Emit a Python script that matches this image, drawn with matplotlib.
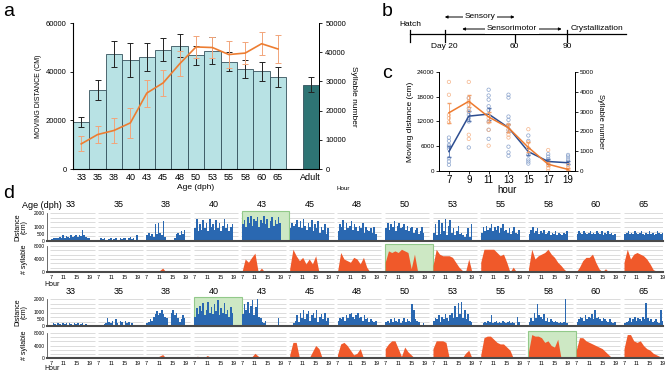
import numpy as np
import matplotlib
matplotlib.use('Agg')
from matplotlib import pyplot as plt
from matplotlib.patches import Rectangle

plt.rcParams['font.family'] = ['Liberation Sans', 'DejaVu Sans']

# ---- panel a: daily totals per age
ages = ['33', '35', '38', '40', '43', '45', '48', '50', '53', '55', '58', '60', '65']
dist_mean = [19300, 32600, 47400, 44900, 46000, 49000, 50700, 46700, 48600, 44100, 41200, 40100, 37800]
dist_err = [2100, 4100, 5300, 6900, 5800, 4800, 4800, 4000, 5600, 4000, 3700, 4000, 4100]
adult_mean = [34700]
adult_err = [3100]
syl_mean = [8600, 11800, 13200, 15800, 26000, 29500, 36000, 41800, 41600, 39200, 39700, 42900, 41100]
syl_err = [2600, 3000, 4300, 5100, 4600, 4500, 4300, 3900, 3600, 4500, 3700, 4000, 4900]

# ---- panel b: timeline (days)
stage_days = [0, 20, 60, 90]
stage_ticklabels = ['', 'Day 20', '60', '90']
sensory = (20, 60)
sensorimotor = (30, 87)

# ---- panel c: hourly pattern
c_hours = [7, 9, 11, 13, 15, 17, 19]
c_dist = [4700, 13300, 13800, 10500, 4700, 2300, 2000]
c_dist_err = [1300, 1200, 1500, 1000, 900, 500, 400]
c_syl = [2940, 3520, 2730, 2180, 1190, 340, 80]
c_syl_err = [500, 300, 250, 200, 250, 100, 50]
c_dist_pts = [[8100, 7300, 6300, 5900, 5400, 3100, 2300, 1500],
              [17700, 15200, 14400, 13600, 12800, 12000, 5700],
              [19700, 18300, 17300, 15700, 14800, 12000, 10000, 7800],
              [18500, 17800, 13200, 12400, 11200, 10000, 5900, 4500, 3700],
              [8600, 7300, 3900, 2800, 2300, 1800],
              [4100, 3500, 2900, 2400, 2000],
              [3900, 3500, 2800, 2300, 1600]]
c_syl_pts = [[4500, 3850, 2830, 2670, 2460],
             [4500, 3680, 3510, 3350, 3040, 1830, 1620],
             [2830, 2670, 2460, 2080, 1280],
             [2330, 2080, 1830, 1690],
             [2110, 1450, 1150],
             [1060, 300, 130, 0],
             [300, 160, 60]]

# ---- panel d: two birds, 7h-19h each day (distance per 30 min, syllables per hour)
b1_dist = [
    [150, 200, 180, 250, 200, 300, 250, 400, 200, 350, 300, 250, 400, 300, 350, 450, 300, 400, 350, 800, 450, 300, 250, 200],
    [100, 200, 150, 250, 100, 0, 150, 200, 100, 150, 250, 100, 0, 200, 150, 250, 200, 100, 250, 300, 150, 200, 100, 400],
    [400, 600, 350, 500, 300, 1200, 500, 1300, 600, 400, 1400, 300, 100, 0, 0, 0, 0, 200, 500, 600, 400, 700, 500, 800],
    [900, 1600, 700, 1200, 800, 1500, 900, 1300, 700, 1600, 1000, 1200, 800, 1500, 900, 1300, 700, 1100, 1600, 900, 1200, 700, 1000, 1200],
    [1200, 1500, 1000, 1700, 1300, 1800, 1100, 1600, 1400, 1700, 1000, 1500, 1300, 1800, 1200, 1600, 900, 1400, 1700, 1100, 1500, 1200, 1700, 1300],
    [900, 1300, 1100, 1200, 1500, 1000, 1400, 900, 1600, 1100, 800, 1300, 1000, 1500, 700, 1200, 900, 1400, 600, 1000, 800, 1200, 500, 900],
    [700, 1200, 1000, 1500, 800, 1300, 900, 1100, 1400, 800, 1200, 1000, 700, 1100, 900, 1300, 600, 1000, 800, 700, 900, 600, 1000, 500],
    [900, 1300, 800, 1200, 1000, 1400, 700, 1100, 1300, 900, 1000, 1200, 800, 1100, 700, 900, 1000, 600, 800, 900, 500, 700, 1000, 600],
    [600, 1200, 400, 1500, 500, 1300, 700, 1600, 400, 1100, 1500, 600, 900, 400, 700, 1100, 500, 600, 400, 300, 500, 900, 300, 1200],
    [600, 1000, 700, 1100, 800, 900, 1200, 700, 1000, 800, 1100, 600, 900, 1200, 700, 800, 600, 900, 500, 700, 1000, 600, 500, 800],
    [500, 800, 1000, 600, 700, 900, 500, 700, 600, 800, 500, 600, 700, 400, 600, 500, 700, 400, 600, 500, 400, 600, 500, 700],
    [500, 700, 600, 500, 700, 600, 500, 600, 700, 500, 600, 500, 700, 600, 500, 700, 400, 600, 500, 700, 500, 600, 400, 500],
    [500, 600, 700, 500, 600, 500, 700, 600, 500, 600, 700, 500, 400, 600, 500, 700, 500, 600, 400, 500, 700, 600, 500, 600],
]
b1_syl = [
    [0, 0, 0, 0, 150, 0, 0, 0, 0, 0, 0, 0, 0],
    [0, 0, 0, 0, 0, 0, 0, 0, 0, 150, 0, 0, 0],
    [0, 0, 0, 0, 400, 1200, 0, 0, 0, 0, 0, 0, 0],
    [200, 0, 0, 0, 300, 0, 0, 200, 0, 0, 0, 0, 0],
    [0, 4000, 3000, 4500, 5800, 0, 1200, 0, 0, 0, 0, 0, 0],
    [1000, 7000, 5000, 3500, 4500, 2500, 4000, 2500, 5000, 0, 0, 0, 0],
    [0, 6000, 4000, 3500, 3000, 4500, 4000, 2500, 4500, 1500, 0, 0, 0],
    [3000, 6500, 6000, 6500, 6000, 7000, 6500, 6000, 1000, 5500, 0, 0, 0],
    [2000, 7000, 5500, 5000, 5000, 5000, 4500, 3000, 1500, 500, 0, 4000, 0],
    [3000, 7000, 7000, 7000, 7000, 6000, 5000, 5500, 3000, 0, 1500, 0, 0],
    [1000, 7000, 4000, 5000, 5500, 6000, 7000, 5500, 4500, 3000, 2000, 800, 0],
    [0, 1500, 3500, 4500, 4500, 5500, 3000, 1000, 0, 1000, 0, 0, 0],
    [3000, 7000, 4000, 5500, 6000, 5500, 5000, 4000, 2500, 700, 300, 0, 0],
]
b2_dist = [
    [100, 200, 150, 100, 200, 150, 100, 200, 150, 250, 100, 200, 150, 100, 200, 150, 250, 100, 150, 200, 100, 150, 0, 0],
    [0, 0, 100, 150, 200, 600, 300, 200, 400, 100, 500, 200, 100, 400, 300, 100, 400, 200, 300, 100, 200, 0, 0, 0],
    [200, 300, 500, 400, 700, 900, 1100, 800, 1000, 1200, 900, 700, 600, 0, 100, 1000, 1200, 800, 1000, 600, 300, 500, 800, 600],
    [700, 1300, 900, 1500, 1100, 1700, 800, 1200, 1800, 1000, 1400, 900, 1600, 1100, 1900, 800, 1300, 1000, 1700, 900, 1200, 700, 1400, 1000],
    [900, 1600, 1200, 1800, 1000, 1500, 1900, 800, 1400, 2000, 700, 600, 300, 200, 400, 100, 0, 0, 0, 0, 100, 0, 600, 0],
    [0, 0, 200, 400, 800, 300, 1000, 600, 1200, 500, 900, 1100, 400, 800, 1000, 600, 1200, 300, 700, 900, 500, 1000, 400, 600],
    [400, 600, 500, 700, 400, 800, 600, 900, 1000, 700, 500, 800, 1000, 600, 700, 400, 800, 500, 600, 300, 500, 400, 300, 400],
    [300, 400, 200, 500, 300, 600, 400, 300, 500, 200, 400, 600, 300, 500, 400, 300, 1600, 1200, 500, 400, 300, 0, 0, 200],
    [400, 600, 500, 800, 300, 700, 500, 900, 600, 400, 800, 1000, 600, 1500, 700, 1700, 900, 1800, 600, 1200, 500, 900, 400, 300],
    [100, 200, 300, 200, 400, 300, 800, 200, 300, 400, 200, 300, 200, 400, 300, 200, 300, 400, 200, 300, 200, 100, 700, 300],
    [300, 600, 400, 1000, 600, 1600, 800, 700, 500, 900, 400, 600, 300, 500, 400, 300, 400, 300, 200, 300, 200, 300, 2000, 200],
    [300, 500, 700, 600, 400, 800, 500, 700, 600, 900, 500, 1200, 600, 700, 500, 400, 600, 500, 400, 300, 500, 300, 200, 300],
    [200, 300, 400, 600, 300, 500, 700, 400, 600, 500, 400, 700, 500, 1700, 600, 400, 500, 300, 400, 500, 300, 200, 1200, 400],
]
b2_syl = [
    [0, 0, 0, 0, 0, 0, 0, 0, 0, 0, 0, 0, 0],
    [0, 0, 300, 0, 0, 0, 0, 0, 0, 0, 0, 0, 0],
    [0, 0, 0, 0, 600, 1100, 0, 0, 0, 0, 0, 0, 0],
    [0, 600, 0, 0, 800, 300, 0, 0, 0, 0, 0, 0, 0],
    [0, 0, 500, 300, 1500, 600, 0, 0, 0, 0, 0, 0, 0],
    [1000, 5000, 5000, 0, 500, 0, 0, 2000, 4000, 3000, 0, 0, 0],
    [1000, 4500, 5000, 4000, 2500, 1000, 1500, 3000, 0, 0, 0, 0, 0],
    [3000, 4500, 5500, 5500, 3000, 500, 3500, 2000, 1000, 0, 0, 0, 0],
    [3000, 5500, 5500, 5500, 5000, 0, 0, 0, 0, 0, 1500, 2500, 0],
    [1000, 6500, 7000, 7000, 6000, 5000, 4500, 4500, 3500, 2500, 0, 0, 0],
    [2000, 7500, 7000, 7000, 6500, 5000, 5500, 4000, 3500, 6000, 0, 0, 0],
    [2500, 6500, 6500, 5500, 5000, 4500, 4000, 3500, 3000, 2000, 1000, 0, 0],
    [3000, 7500, 7500, 5500, 5000, 5500, 4000, 3000, 2500, 1500, 1000, 500, 0],
]

BLUE = '#2a68b1'
ORANGE = '#f0592a'
W, H = 668, 373


def px(l, t, r, b):
    return [l / W, 1 - b / H, (r - l) / W, (b - t) / H]


fig = plt.figure(figsize=(6.68, 3.73), dpi=100)

# ================= a
ax_a = fig.add_axes(px(73, 23, 319, 169))
xa = np.arange(len(ages))
ekw = dict(ecolor='#222222', elinewidth=0.7, capsize=2, capthick=0.7)
ax_a.bar(xa, dist_mean, width=1.0, color='#b8e2e4', edgecolor='#35525c', linewidth=0.6,
         yerr=dist_err, error_kw=ekw)
ax_a.bar([14], adult_mean, width=1.0, color='#2e7474', edgecolor='#35525c', linewidth=0.6,
         yerr=adult_err, error_kw=ekw)
ax_a.set_xlim(-0.5, 14.5)
ax_a.set_ylim(0, 60000)
ax_a.set_yticks([0, 20000, 40000, 60000])
ax_a.set_xticks(list(xa) + [14])
ax_a.set_xticklabels(ages + ['Adult'])
ax_a.tick_params(axis='x', length=0, labelsize=6.5, pad=3)
ax_a.tick_params(axis='y', labelsize=5.5, length=2.5, width=0.6, pad=2)
ax_a.spines['top'].set_visible(False)
for s in ['left', 'bottom', 'right']:
    ax_a.spines[s].set_linewidth(0.7)
ax_a.set_xlabel('Age (dph)', fontsize=6, labelpad=1)
ax_a.set_ylabel('MOVING DISTANCE (CM)', fontsize=5, labelpad=3)

ax_a2 = ax_a.twinx()
ax_a2.errorbar(xa, syl_mean, yerr=syl_err, color='#ed7d31', lw=1.2, ecolor='#f2a57a',
               elinewidth=0.7, capsize=2, capthick=0.7)
ax_a2.set_ylim(0, 50000)
ax_a2.set_yticks(range(0, 50001, 10000))
ax_a2.tick_params(axis='y', labelsize=5.5, length=2.5, width=0.6, pad=2)
ax_a2.spines['top'].set_visible(False)
ax_a2.spines['right'].set_linewidth(0.7)
ax_a2.set_ylabel('Syllable number', rotation=270, fontsize=6, labelpad=8)

# ================= b
ax_b = fig.add_axes(px(400, 5, 668, 55))
ax_b.axis('off')
ax_b.set_xlim(-5.7, 148)
ax_b.set_ylim(55, 5)
ax_b.plot([0, 124], [34, 34], color='black', lw=0.9)
for d, lab in zip(stage_days, stage_ticklabels):
    ax_b.plot([d, d], [30, 42], color='black', lw=0.9)
    ax_b.text(d, 47, lab, ha='center', va='center', fontsize=6)
ax_b.text(0, 24, 'Hatch', ha='center', va='center', fontsize=6)
ax_b.text(92, 29, 'Crystallization', ha='left', va='center', fontsize=6)
for (d0, d1), y, lab in [(sensory, 17, 'Sensory'), (sensorimotor, 29, 'Sensorimotor')]:
    ax_b.annotate('', xy=(d0, y), xytext=(d1, y),
                  arrowprops=dict(arrowstyle='<|-|>', lw=0.7, color='black', mutation_scale=4,
                                  shrinkA=0, shrinkB=0))
    ax_b.text((d0 + d1) / 2, y, lab, ha='center', va='center', fontsize=6,
              bbox=dict(facecolor='white', edgecolor='none', pad=1.2))

# ================= c
ax_c = fig.add_axes(px(439, 72, 575, 171))
ax_c2 = ax_c.twinx()
for h, pts in zip(c_hours, c_dist_pts):
    ax_c.scatter([h] * len(pts), pts, s=6, facecolors='none', edgecolors='#8aa3cc', linewidths=0.5, zorder=2)
for h, pts in zip(c_hours, c_syl_pts):
    ax_c2.scatter([h] * len(pts), pts, s=6, facecolors='none', edgecolors='#f5b48a', linewidths=0.5, zorder=2)
ax_c.errorbar(c_hours, c_dist, yerr=c_dist_err, color='#2d4d90', lw=1.1, ecolor='#5b78b0',
              elinewidth=0.6, capsize=1.2, zorder=3)
ax_c2.errorbar(c_hours, c_syl, yerr=c_syl_err, color='#ee7a2e', lw=1.1, ecolor='#f3a06a',
               elinewidth=0.6, capsize=1.2, zorder=3)
ax_c.set_xlim(6, 19.7)
ax_c.set_ylim(0, 24000)
ax_c2.set_ylim(0, 5000)
ax_c.set_yticks(range(0, 24001, 6000))
ax_c2.set_yticks(range(0, 5001, 1000))
ax_c.set_xticks(c_hours)
ax_c.tick_params(axis='x', labelsize=7, length=2, width=0.6, pad=1)
ax_c.tick_params(axis='y', labelsize=4.5, length=2, width=0.6, pad=1.5)
ax_c2.tick_params(axis='y', labelsize=4.5, length=2, width=0.6, pad=1.5)
for a in (ax_c, ax_c2):
    a.spines['top'].set_visible(False)
    for s in ['left', 'bottom', 'right']:
        a.spines[s].set_linewidth(0.7)
ax_c.set_xlabel('hour', fontsize=7, labelpad=0)
ax_c.set_ylabel('Moving distance (cm)', fontsize=6, labelpad=2)
ax_c2.set_ylabel('Syllable number', rotation=270, fontsize=5.5, labelpad=7)

# ================= d
P = 14.7          # width of one day slot (in hours)
XMIN, XMAX = -1.2, 188.3
rows = [
    (px(47, 213, 663, 241), b1_dist, 'dist', 4),
    (px(47, 246, 663, 272), b1_syl, 'syl', 7),
    (px(47, 299, 663, 326), b2_dist, 'dist', 3),
    (px(47, 333, 663, 358), b2_syl, 'syl', 10),
]
hour_ticks = [0, 4, 8, 12]
hour_labels = ['7', '11', '15', '19']
d_axes = []
for rect, data, kind, hl in rows:
    ax = fig.add_axes(rect)
    d_axes.append(ax)
    ymax = 2000 if kind == 'dist' else 8000
    ax.set_xlim(XMIN, XMAX)
    ax.set_ylim(0, ymax)
    for i in range(len(data)):
        ax.hlines(np.linspace(0, ymax, 7)[1:], i * P - 0.2, i * P + P - 1.2, color='#d6d6d6', lw=0.6, zorder=0)
    ax.add_patch(Rectangle((hl * P - 0.1, 0), P, ymax * 1.08, facecolor='#cde8c4', edgecolor='#92c98a',
                           lw=0.8, zorder=0.5, clip_on=False))
    for i, vals in enumerate(data):
        n = len(vals)
        if kind == 'dist':
            ax.bar(i * P + np.arange(n) * 12 / n, vals, width=12 / n, align='edge',
                   color=BLUE, linewidth=0, zorder=2)
        else:
            ax.fill_between(i * P + np.linspace(0, 12, n), vals, color=ORANGE, lw=0, zorder=2)
    for s in ['top', 'right']:
        ax.spines[s].set_visible(False)
    ax.spines['left'].set_color('#555555')
    ax.spines['left'].set_linewidth(0.6)
    ax.spines['bottom'].set_color('#4a4a4a')
    ax.spines['bottom'].set_linewidth(1.5)
    ax.spines['bottom'].set_zorder(3)
    if kind == 'dist':
        ax.set_yticks([0, 500, 1000, 2000])
        ax.set_xticks([])
    else:
        ax.set_yticks([0, 4000, 8000])
        ticks, labs = [], []
        for i in range(len(data)):
            ticks += [i * P + t for t in hour_ticks]
            labs += hour_labels
        ax.set_xticks(ticks)
        ax.set_xticklabels(labs)
        ax.tick_params(axis='x', length=0, labelsize=4, pad=2.5)
    ax.tick_params(axis='y', length=0, labelsize=3.5, pad=1.5)

for ax in (d_axes[0], d_axes[2]):
    for i, lab in enumerate(ages):
        ax.text(i * P + 6, 1.29, lab, transform=ax.get_xaxis_transform(), ha='center', va='center', fontsize=6.5)
fig.text(62 / W, 1 - 205 / H, 'Age (dph)', ha='right', va='center', fontsize=6.5)
for yc in (227, 312):
    fig.text(21 / W, 1 - yc / H, 'Distance\n(cm)', rotation=90, ha='center', va='center', fontsize=5,
             linespacing=0.95)
for yc in (259, 345):
    fig.text(25 / W, 1 - yc / H, '# syllable', rotation=90, ha='center', va='center', fontsize=5)
for yc in (284, 369):
    fig.text(44 / W, 1 - yc / H, 'Hour', ha='left', va='center', fontsize=5)
fig.text(337 / W, 1 - 188 / H, 'Hour', ha='left', va='center', fontsize=4.5)

# panel letters
for lab, x, y in [('a', 3, 11), ('b', 382, 11), ('c', 382, 73), ('d', 3, 193)]:
    fig.text(x / W, 1 - y / H, lab, ha='left', va='center', fontsize=14)

fig.savefig('out.png', dpi=100)
